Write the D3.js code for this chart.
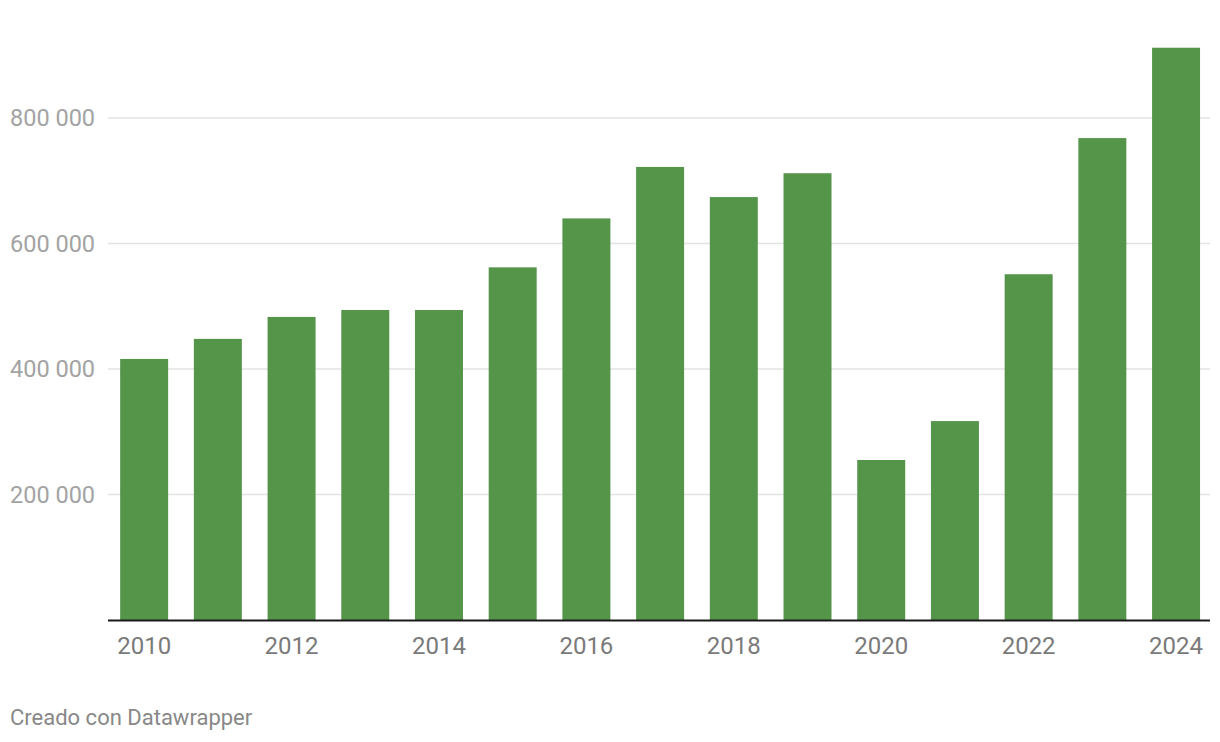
<!DOCTYPE html>
<html><head><meta charset="utf-8">
<script src="https://cdn.jsdelivr.net/npm/d3@7"></script>
<style>body{margin:0;background:#fff;} text{font-family:Roboto,"Noto Sans",sans-serif;}</style>
</head><body>
<svg id="c" width="1220" height="742"></svg>
<script>
const years = ["2010","2011","2012","2013","2014","2015","2016","2017","2018","2019","2020","2021","2022","2023","2024"];
const values = [416000,448000,483000,494000,494000,562000,640000,722000,674000,712000,255000,317000,551000,768000,912000];
const yTicks = [200000,400000,600000,800000];
const xTickLabels = ["2010","2012","2014","2016","2018","2020","2022","2024"];

const svg = d3.select("#c");
const x = d3.scaleBand().domain(years).range([108,1210]).paddingInner(0.349).paddingOuter(0.15).align(0.55);
const y = d3.scaleLinear().domain([0,800000]).range([620,118]);
const fmt = v => d3.format(",")(v).replace(/,/g," ");

// gridlines
svg.append("g").selectAll("line").data(yTicks).join("line")
  .attr("x1",108).attr("x2",1210)
  .attr("y1",d=>y(d)).attr("y2",d=>y(d))
  .attr("stroke","#e3e3e3").attr("stroke-width",1.5);
svg.append("g").selectAll("text").data(yTicks).join("text")
  .attr("x",10).attr("y",d=>y(d)).attr("dy","0.36em")
  .attr("fill","#a3a3a3").attr("font-size",23.5).text(fmt);

// bars
svg.append("g").selectAll("rect").data(years).join("rect")
  .attr("x",d=>x(d)).attr("width",x.bandwidth())
  .attr("y",(d,i)=>y(values[i])).attr("height",(d,i)=>y(0)-y(values[i]))
  .attr("fill","#54954a");

// baseline
svg.append("line").attr("x1",108).attr("x2",1210).attr("y1",y(0)+0.5).attr("y2",y(0)+0.5)
  .attr("stroke","#1a1a1a").attr("stroke-width",2);

// x labels
svg.append("g").selectAll("text").data(xTickLabels).join("text")
  .attr("x",d=>x(d)+x.bandwidth()/2).attr("y",654)
  .attr("text-anchor","middle").attr("fill","#7a7a7a").attr("font-size",24).text(d=>d);

svg.append("text").attr("x",10).attr("y",725).attr("fill","#888").attr("font-size",22)
  .text("Creado con Datawrapper");
</script>
</body></html>
